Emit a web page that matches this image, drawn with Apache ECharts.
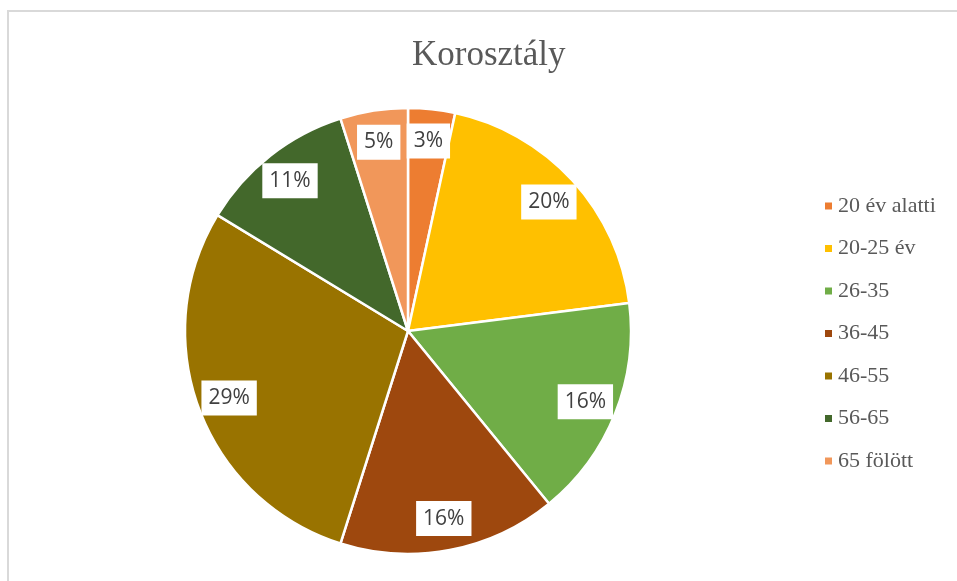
<!DOCTYPE html>
<html lang="hu">
<head>
    <meta charset="UTF-8"/>
    <title>Korosztály</title>
    <script src="https://cdn.jsdelivr.net/npm/echarts@6/dist/echarts.min.js"></script>
    <style>
        body { margin: 0; background: #fff; }
        #frame { position: absolute; left: 7px; top: 10px; width: 960px; height: 580px;
            border-left: 2px solid #d9d9d9; border-top: 2px solid #d9d9d9; }
        #main { position: absolute; left: 0; top: 0; width: 957px; height: 581px; }
    </style>
</head>
<body>
<div id="frame"></div>
<div id="main"></div>

<script type="text/javascript">
    // korcsoportok és arányuk (%)
    var categories = ['20 év alatti', '20-25 év', '26-35', '36-45', '46-55', '56-65', '65 fölött'];
    var values = [3.4, 19.6, 16.1, 15.8, 28.8, 11.4, 4.9];
    var colors = ['#ED7D31', '#FFC000', '#70AD47', '#9E480E', '#997300', '#43682B', '#F1975A'];

    var pieData = categories.map(function (name, i) {
        return { name: name, value: values[i], itemStyle: { color: colors[i] } };
    });
    var labelData = categories.map(function (name, i) {
        return { name: name, value: values[i] };
    });

    var myChart = echarts.init(document.getElementById('main'));

    var option = {
        animation: false,
        title: {
            text: 'Korosztály',
            left: 407,
            top: 33,
            textStyle: {
                fontFamily: 'Liberation Serif',
                fontSize: 35,
                fontWeight: 'normal',
                color: '#595959'
            }
        },
        legend: {
            orient: 'vertical',
            left: 818,
            top: 190,
            itemWidth: 9,
            itemHeight: 9,
            itemGap: 20.5,
            icon: 'rect',
            data: categories,
            textStyle: {
                fontFamily: 'Liberation Serif',
                fontSize: 22,
                lineHeight: 22,
                color: '#595959'
            }
        },
        series: [
            {
                name: 'Korosztály',
                type: 'pie',
                center: [408, 331],
                radius: 223,
                startAngle: 90,
                percentPrecision: 0,
                label: { show: false },
                labelLine: { show: false },
                itemStyle: { borderColor: '#fff', borderWidth: 2.5 },
                data: pieData
            },
            {
                // csak a címkékhez: átlátszó gyűrű
                name: 'címkék',
                type: 'pie',
                center: [408, 331],
                radius: [150, 226],
                startAngle: 90,
                percentPrecision: 0,
                silent: true,
                legendHoverLink: false,
                itemStyle: { color: 'rgba(0,0,0,0)', borderWidth: 0 },
                label: {
                    show: true,
                    position: 'inside',
                    formatter: '{d}%',
                    fontFamily: 'Open Sans',
                    fontSize: 21,
                    color: '#404040',
                    backgroundColor: '#fff',
                    padding: [8, 7, 6, 7]
                },
                labelLine: { show: false },
                data: labelData
            }
        ]
    };

    myChart.setOption(option);
</script>
</body>
</html>
